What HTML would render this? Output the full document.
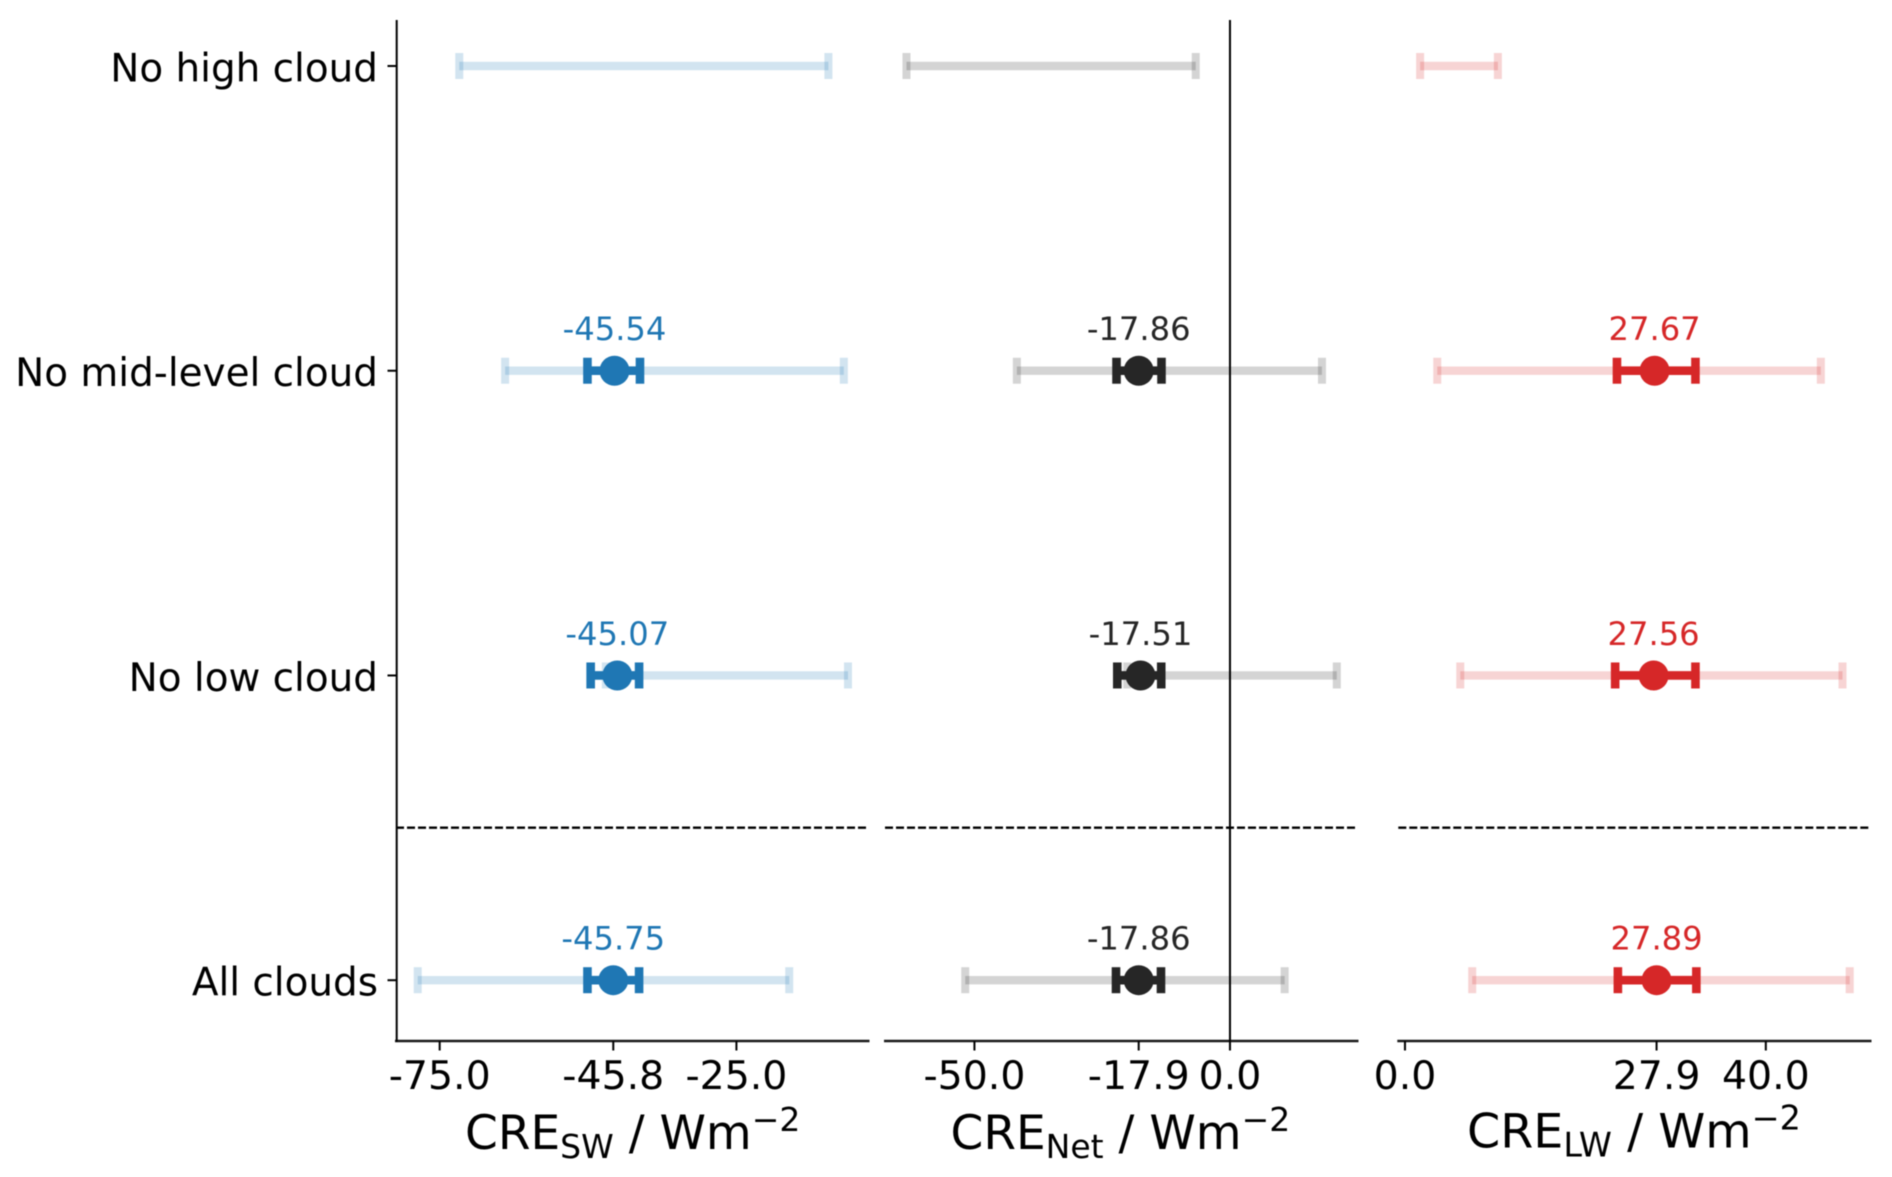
<!DOCTYPE html>
<html lang="en">
<head>
<meta charset="utf-8">
<title>Cloud radiative effect by cloud scenario</title>
<style>
  html, body { margin: 0; padding: 0; background: #fff; }
  #chart { display: block; width: 1892px; height: 1177px; font-family: "DejaVu Sans", "Liberation Sans", sans-serif; filter: blur(0.4px); }
</style>
</head>
<body>
<svg id="chart" xmlns="http://www.w3.org/2000/svg" width="1892" height="1177" viewBox="0 0 1892 1177">
  <rect x="0" y="0" width="1892" height="1177" fill="#ffffff"/>
  <g id="marks"></g>
  <text x="465" y="1149" font-size="47" fill="#000">CRE<tspan font-size="33" dy="9">SW</tspan><tspan dy="-9"> / Wm</tspan><tspan font-size="33" dy="-18">−2</tspan></text>
  <text x="950.5" y="1149" font-size="47" fill="#000">CRE<tspan font-size="33" dy="9">Net</tspan><tspan dy="-9"> / Wm</tspan><tspan font-size="33" dy="-18">−2</tspan></text>
  <text x="1467" y="1147.5" font-size="47.6" fill="#000">CRE<tspan font-size="33.4" dy="9">LW</tspan><tspan dy="-9"> / Wm</tspan><tspan font-size="33.4" dy="-18">−2</tspan></text>
</svg>
<script>
// Row categories, top to bottom
const categories = ["No high cloud", "No mid-level cloud", "No low cloud", "All clouds"];

// Shortwave series
const swCentre = [null, -45.54, -45.07, -45.75];
const swInnerLow = [null, -50.1, -49.56, -50.1];
const swInnerHigh = [null, -41.25, -41.4, -41.4];
const swOuterLow = [-71.7, -63.97, -47.0, -78.7];
const swOuterHigh = [-9.5, -6.9, -6.2, -16.1];
const swTicks = [-75, -45.75, -25];
const swTickLabels = ["-75.0", "-45.8", "-25.0"];

// Net series
const netCentre = [null, -17.86, -17.51, -17.86];
const netInnerLow = [null, -22.2, -22.05, -22.3];
const netInnerHigh = [null, -13.4, -13.45, -13.5];
const netOuterLow = [-63.3, -41.7, -20.1, -51.8];
const netOuterHigh = [-6.7, 18.0, 20.9, 10.7];
const netTicks = [-50, -17.86, 0];
const netTickLabels = ["-50.0", "-17.9", "0.0"];

// Longwave series
const lwCentre = [null, 27.67, 27.56, 27.89];
const lwInnerLow = [null, 23.5, 23.3, 23.6];
const lwInnerHigh = [null, 32.2, 32.2, 32.3];
const lwOuterLow = [1.68, 3.58, 6.13, 7.45];
const lwOuterHigh = [10.3, 46.1, 48.5, 49.3];
const lwTicks = [0, 27.89, 40];
const lwTickLabels = ["0.0", "27.9", "40.0"];

// Axis limits (data units)
const swLimits = [-82.36, -2.66];
const netLimits = [-67.5, 25.05];
const lwLimits = [-0.74, 51.66];

const NS = "http://www.w3.org/2000/svg";
const root = document.getElementById("marks");

function mk(tag, attrs, text) {
  const el = document.createElementNS(NS, tag);
  for (const k in attrs) el.setAttribute(k, attrs[k]);
  if (text !== undefined) el.textContent = text;
  root.appendChild(el);
  return el;
}
function linear(domain, range) {
  return v => range[0] + (v - domain[0]) * (range[1] - range[0]) / (domain[1] - domain[0]);
}

const plotTop = 20, plotBottom = 1041, dividerY = 827.7;
const yRow = linear([0, categories.length - 1], [66, 980.2]);

const panels = [
  { key: "sw", color: "#1f77b4", x: linear(swLimits, [396, 869]), lim: swLimits,
    centre: swCentre, innerLow: swInnerLow, innerHigh: swInnerHigh, outerLow: swOuterLow, outerHigh: swOuterHigh,
    ticks: swTicks, labels: swTickLabels },
  { key: "net", color: "#262626", x: linear(netLimits, [885, 1358]), lim: netLimits,
    centre: netCentre, innerLow: netInnerLow, innerHigh: netInnerHigh, outerLow: netOuterLow, outerHigh: netOuterHigh,
    ticks: netTicks, labels: netTickLabels },
  { key: "lw", color: "#d62728", x: linear(lwLimits, [1398.3, 1871]), lim: lwLimits,
    centre: lwCentre, innerLow: lwInnerLow, innerHigh: lwInnerHigh, outerLow: lwOuterLow, outerHigh: lwOuterHigh,
    ticks: lwTicks, labels: lwTickLabels }
];

function drawCap(x, y, color, opacity, w) {
  return mk("rect", { x: x - w / 2, y: y - 13, width: w, height: 26, fill: color, "fill-opacity": opacity });
}

panels.forEach(p => {
  // Divider between the scenarios and the all-clouds row
  const divider = mk("line", { x1: p.x(p.lim[0]), x2: p.x(p.lim[1]), y1: dividerY, y2: dividerY, stroke: "#000", "stroke-width": 2.4, "stroke-dasharray": "8 3" });
  
  

  categories.forEach((cat, i) => {
    const y = yRow(i);
    const outerA = p.x(p.outerLow[i]);
    const outerB = p.x(p.outerHigh[i]);

    const outerLine = mk("line", { x1: outerA, x2: outerB, y1: y, y2: y, stroke: p.color, "stroke-opacity": 0.2, "stroke-width": 8.4 });
    
    

    const outerCapA = drawCap(outerA, y, p.color, 0.2, 8);
    
    

    const outerCapB = drawCap(outerB, y, p.color, 0.2, 8);
    
    

    if (p.centre[i] === null) return;

    const innerA = p.x(p.innerLow[i]);
    const innerB = p.x(p.innerHigh[i]);
    const cx = p.x(p.centre[i]);

    const innerLine = mk("line", { x1: innerA, x2: innerB, y1: y, y2: y, stroke: p.color, "stroke-width": 8.6 });
    
    

    const innerCapA = drawCap(innerA, y, p.color, 1, 8.6);
    
    

    const innerCapB = drawCap(innerB, y, p.color, 1, 8.6);
    
    

    const dot = mk("circle", { cx: cx, cy: y, r: 15, fill: p.color });
    
    

    const val = mk("text", { x: cx, y: y - 30.5, "text-anchor": "middle", "font-size": 32.2, fill: p.color }, p.centre[i].toFixed(2));
    
    
  });

  // Bottom spine
  const spine = mk("line", { x1: p.x(p.lim[0]) - 1, x2: p.x(p.lim[1]) + 0.5, y1: plotBottom, y2: plotBottom, stroke: "#1a1a1a", "stroke-width": 2.6 });
  
  

  // Ticks and tick labels
  p.ticks.forEach((t, k) => {
    const tx = p.x(t);
    const tick = mk("line", { x1: tx, x2: tx, y1: plotBottom, y2: plotBottom + 9.5, stroke: "#000", "stroke-width": 2 });
    
    

    const lab = mk("text", { x: tx, y: 1089, "text-anchor": "middle", "font-size": 39.4, fill: "#000" }, p.labels[k]);
    
    
  });
});

// Left spine, y ticks and category labels
const ySpine = mk("line", { x1: 396.7, x2: 396.7, y1: plotTop, y2: plotBottom + 1, stroke: "#000", "stroke-width": 2 });



categories.forEach((cat, i) => {
  const y = yRow(i);
  const tick = mk("line", { x1: 387.5, x2: 396.7, y1: y, y2: y, stroke: "#000", "stroke-width": 2 });
  
  

  const lab = mk("text", { x: 378, y: y + 15.3, "text-anchor": "end", "font-size": 38.9, fill: "#000" }, cat);
  
  
});

// Zero reference line on the net panel
const zeroX = panels[1].x(0);
const zeroLine = mk("line", { x1: zeroX, x2: zeroX, y1: plotTop, y2: plotBottom, stroke: "#000", "stroke-width": 2 });


</script>
</body>
</html>
